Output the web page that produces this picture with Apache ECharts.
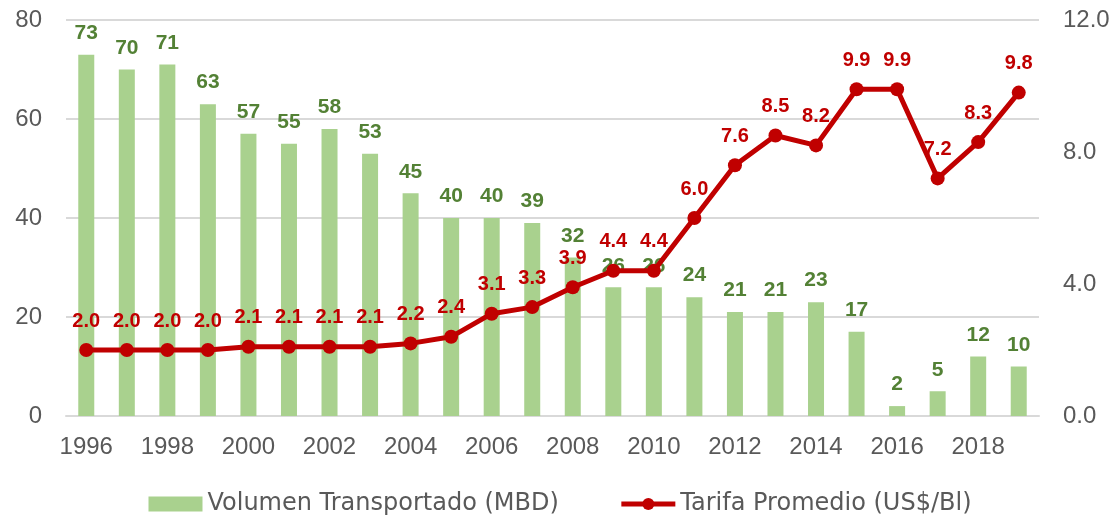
<!DOCTYPE html>
<html>
<head>
<meta charset="utf-8">
<script src="https://cdn.jsdelivr.net/npm/echarts@6/dist/echarts.min.js"></script>
<style>
  html, body { margin: 0; padding: 0; background: #fff; }
  #main { width: 1120px; height: 516px; }
</style>
</head>
<body>
<div id="main"></div>
<script>
// years on the x axis
var years = ['1996','1997','1998','1999','2000','2001','2002','2003','2004','2005','2006','2007',
             '2008','2009','2010','2011','2012','2013','2014','2015','2016','2017','2018','2019'];
// Volumen Transportado (MBD)
var volumen = [73, 70, 71, 63, 57, 55, 58, 53, 45, 40, 40, 39, 32, 26, 26, 24, 21, 21, 23, 17, 2, 5, 12, 10];
// Tarifa Promedio (US$/Bl)
var tarifa = [2.0, 2.0, 2.0, 2.0, 2.1, 2.1, 2.1, 2.1, 2.2, 2.4, 3.1, 3.3, 3.9, 4.4, 4.4, 6.0, 7.6, 8.5, 8.2, 9.9, 9.9, 7.2, 8.3, 9.8];

var axisColor = '#595959';
var font = 'Liberation Sans, Arial, sans-serif';

var myChart = echarts.init(document.getElementById('main'));

var option = {
    animation: false,
    textStyle: { fontFamily: font },
    grid: { left: 66, right: 81, top: 20, bottom: 100, containLabel: false },
    legend: {
        top: 487,
        left: 'center',
        itemGap: 60,
        itemWidth: 54,
        itemHeight: 15,
        textStyle: { color: axisColor, fontSize: 24, fontFamily: 'DejaVu Sans' },
        data: [
            { name: 'Volumen Transportado (MBD)', icon: 'rect' },
            { name: 'Tarifa Promedio (US$/Bl)', lineStyle: { width: 5, color: '#c00000' } }
        ]
    },
    xAxis: {
        type: 'category',
        data: years,
        axisTick: { show: false },
        axisLine: { lineStyle: { color: '#d9d9d9', width: 2 } },
        axisLabel: { interval: 1, color: axisColor, fontSize: 24, margin: 19, fontFamily: font }
    },
    yAxis: [
        {
            type: 'value',
            min: 0, max: 80, interval: 20,
            axisLine: { show: false },
            axisTick: { show: false },
            splitLine: { lineStyle: { color: '#d9d9d9', width: 2 } },
            axisLabel: { color: axisColor, fontSize: 24, margin: 24, fontFamily: font }
        },
        {
            type: 'value',
            min: 0, max: 12, interval: 4,
            axisLine: { show: false },
            axisTick: { show: false },
            splitLine: { show: false },
            axisLabel: {
                color: axisColor, fontSize: 24, margin: 24, fontFamily: font,
                formatter: function (v) { return v.toFixed(1); }
            }
        }
    ],
    series: [
        {
            name: 'Volumen Transportado (MBD)',
            type: 'bar',
            yAxisIndex: 0,
            barWidth: 16,
            itemStyle: { color: '#a9d18e' },
            label: {
                show: true,
                position: 'top',
                distance: 11,
                color: '#538135',
                fontWeight: 'bold',
                fontSize: 21,
                fontFamily: font
            },
            data: volumen
        },
        {
            name: 'Tarifa Promedio (US$/Bl)',
            type: 'line',
            yAxisIndex: 1,
            symbol: 'circle',
            symbolSize: 14,
            lineStyle: { color: '#c00000', width: 5 },
            itemStyle: { color: '#c00000' },
            label: {
                show: true,
                position: 'top',
                distance: 12,
                color: '#c00000',
                fontWeight: 'bold',
                fontSize: 20,
                fontFamily: font,
                formatter: function (p) { return p.value.toFixed(1); }
            },
            z: 3,
            data: tarifa
        }
    ]
};

myChart.setOption(option);
</script>
</body>
</html>
